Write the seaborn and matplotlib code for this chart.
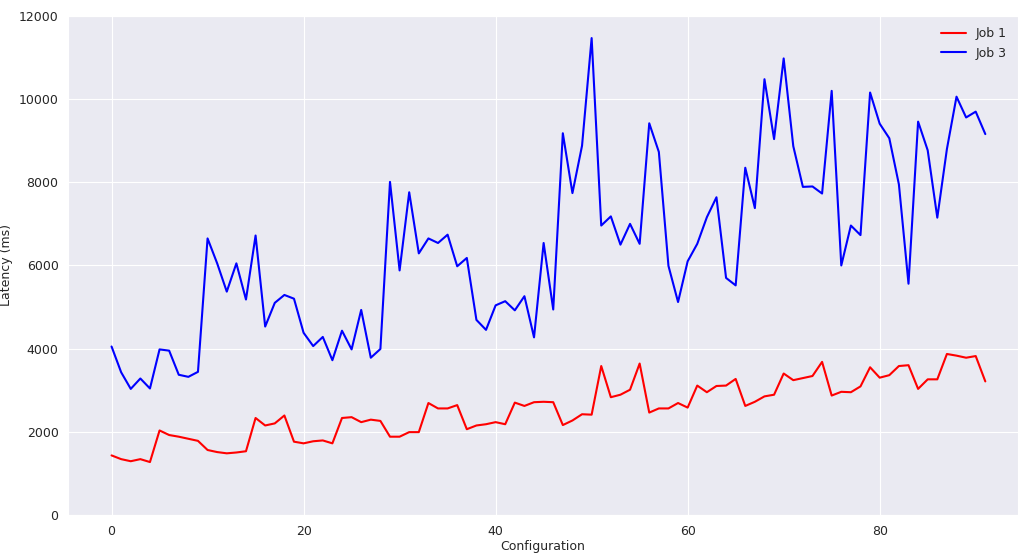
import matplotlib
matplotlib.use("Agg")
import matplotlib.pyplot as plt
import numpy as np
import pandas as pd
import seaborn as sns

# Latency per configuration
JOB1 = [1430, 1340, 1290, 1340, 1270, 2030, 1920, 1880, 1830, 1780,
        1560, 1510, 1480, 1500, 1530, 2330, 2150, 2200, 2390, 1760,
        1720, 1770, 1790, 1720, 2330, 2350, 2230, 2290, 2260, 1880,
        1880, 1990, 1990, 2690, 2560, 2560, 2640, 2060, 2150, 2180,
        2230, 2180, 2700, 2620, 2710, 2720, 2710, 2160, 2270, 2420,
        2410, 3580, 2830, 2890, 3010, 3640, 2460, 2560, 2560, 2690,
        2580, 3110, 2950, 3100, 3110, 3270, 2620, 2720, 2850, 2890,
        3400, 3240, 3290, 3340, 3680, 2870, 2960, 2950, 3090, 3550,
        3300, 3360, 3580, 3600, 3030, 3260, 3260, 3870, 3830, 3780,
        3820, 3210]
JOB3 = [4050, 3430, 3030, 3280, 3040, 3980, 3950, 3370, 3320, 3440,
        6650, 6050, 5370, 6050, 5180, 6720, 4530, 5100, 5290, 5200,
        4380, 4060, 4280, 3720, 4430, 3980, 4930, 3780, 3990, 8010,
        5880, 7760, 6290, 6650, 6540, 6740, 5980, 6180, 4690, 4450,
        5040, 5140, 4920, 5260, 4270, 6540, 4940, 9180, 7740, 8880,
        11470, 6960, 7180, 6500, 7000, 6520, 9420, 8730, 5990, 5120,
        6100, 6520, 7160, 7640, 5700, 5520, 8350, 7380, 10480, 9040,
        10980, 8870, 7890, 7900, 7730, 10200, 6000, 6960, 6730, 10160,
        9410, 9060, 7950, 5560, 9460, 8770, 7150, 8800, 10060, 9560,
        9700, 9160]
CONFIGS = list(range(len(JOB1)))

sns.set_style("darkgrid")
plt.rcParams["font.family"] = ["DejaVu Sans"]

df = pd.DataFrame({"Configuration": CONFIGS * 2,
                   "Latency (ms)": JOB1 + JOB3,
                   "job": ["Job 1"] * len(JOB1) + ["Job 3"] * len(JOB3)})

fig, ax = plt.subplots(figsize=(10.2, 5.53), dpi=100)
sns.lineplot(data=df, x="Configuration", y="Latency (ms)", hue="job",
             palette={"Job 1": "red", "Job 3": "blue"}, linewidth=1.5, ax=ax)
ax.set_ylim(0, 12000)
ax.set_xlim(-4.5, 94.4)
ax.tick_params(labelsize=9)
ax.set_xlabel("Configuration", fontsize=9, labelpad=2)
ax.set_ylabel("Latency (ms)", fontsize=9, labelpad=4)
ax.legend(title=None, loc="upper right", frameon=False, fontsize=9)
fig.subplots_adjust(left=0.067, right=0.998, top=0.971, bottom=0.069)
fig.savefig("out.png")
plt.close(fig)
